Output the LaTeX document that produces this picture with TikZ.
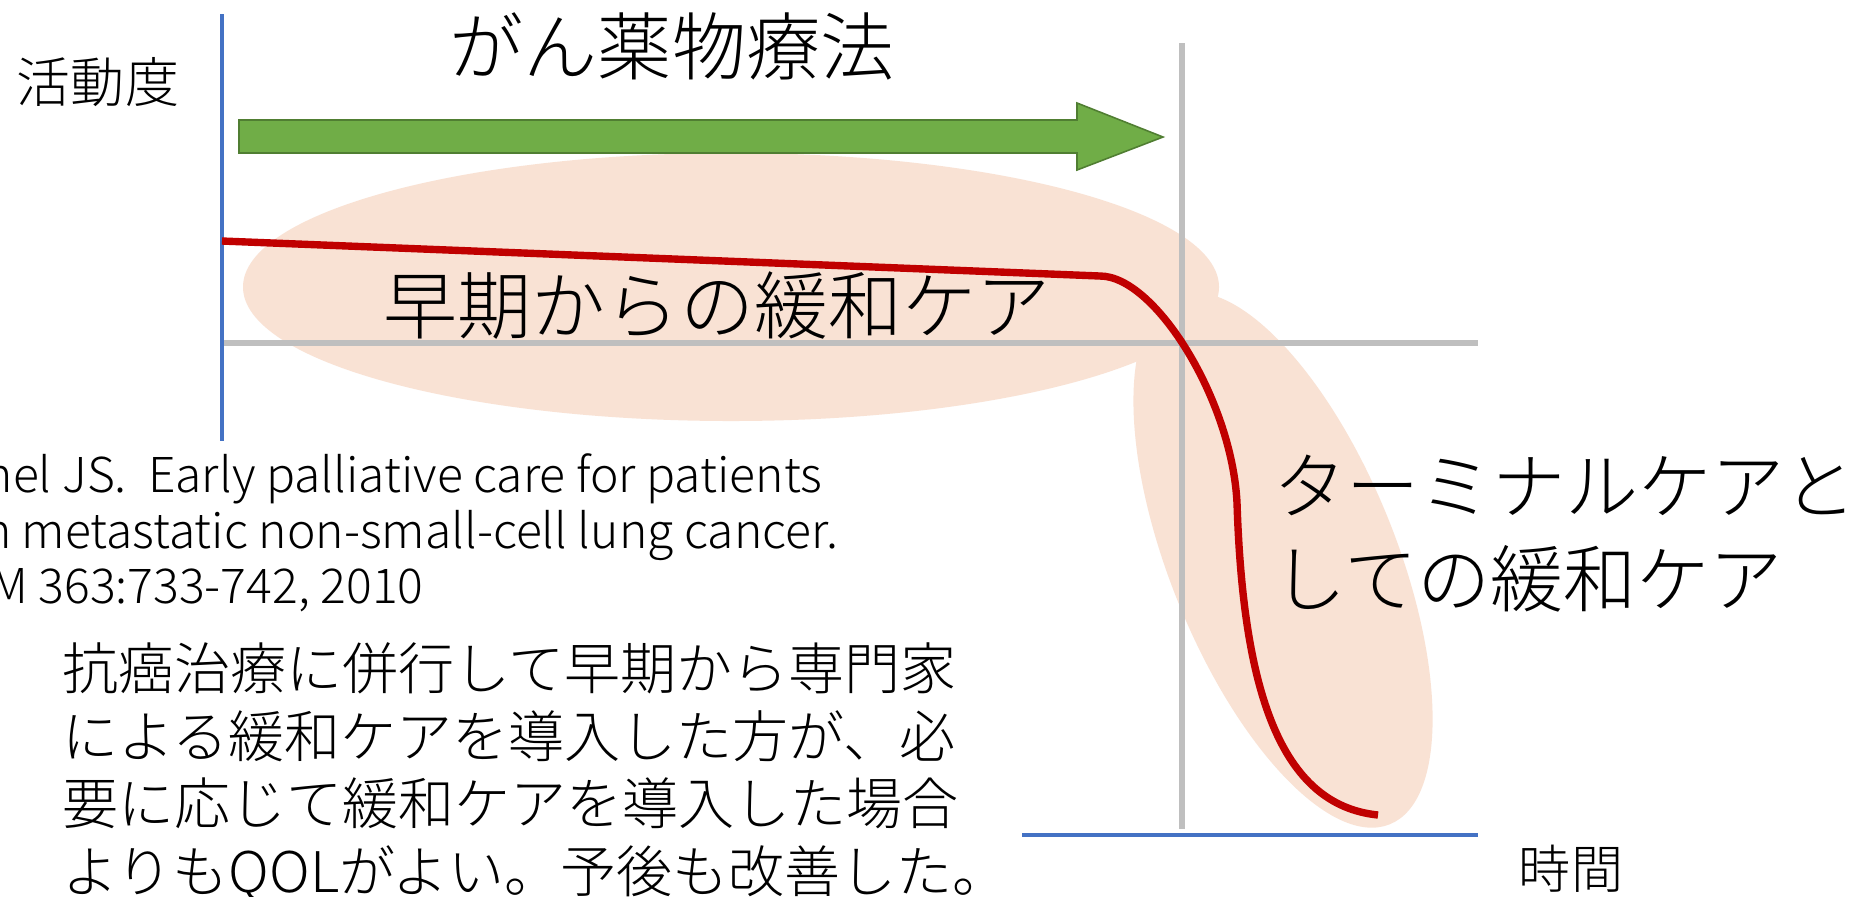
\documentclass[tikz,border=0pt]{standalone}
\usepackage{fontspec}
\setmainfont{Noto Sans CJK JP Light}
\definecolor{peach}{RGB}{249,226,212}
\definecolor{axblue}{RGB}{68,114,196}
\definecolor{axgray}{RGB}{191,191,191}
\definecolor{curvered}{RGB}{192,0,0}
\definecolor{arrgreen}{RGB}{112,173,71}
\definecolor{arrgreenline}{RGB}{80,126,50}
\begin{document}
\begin{tikzpicture}[x=0.01cm,y=-0.01cm,
  txt/.style={inner sep=0pt,outer sep=0pt,text=black},
  bigjp/.style={txt,font=\fontsize{21.05pt}{25pt}\selectfont},
  midjp/.style={txt,font=\fontsize{20.8pt}{25pt}\selectfont},
  parajp/.style={txt,font=\fontsize{15.93pt}{19pt}\selectfont},
  cite/.style={txt,font=\fontsize{13.66pt}{16pt}\selectfont},
  axislabel/.style={txt,font=\fontsize{15.36pt}{18pt}\selectfont},
  blueaxis/.style={draw=axblue,line width=1.2pt},
  grayaxis/.style={draw=axgray,line width=1.8pt},
  curve/.style={draw=curvered,line width=2.1pt,line join=round},
  blob/.style={fill=peach}]
\useasboundingbox (0,0) rectangle (1874,896);
\clip (0,0) rectangle (1874,896);
\fill[white] (0,0) rectangle (1874,896);
% peach ellipses
\fill[blob] (731,287) ellipse [x radius=488, y radius=134];
\fill[blob, rotate around={22:(1283,560)}] (1283,560) ellipse [x radius=113, y radius=285];
% axes
\draw[grayaxis] (1182,43) -- (1182,829);
\draw[grayaxis] (222,343) -- (1478,343);
\draw[blueaxis] (222,14) -- (222,441);
\draw[blueaxis] (1022,835) -- (1478,835);
% green arrow
\draw[fill=arrgreen,draw=arrgreenline,line width=0.45pt,line join=miter]
  (239,120) -- (1077,120) -- (1077,103) -- (1163,137) -- (1077,170) -- (1077,153) -- (239,153) -- cycle;
% red curve
\draw[curve] (222,241) -- (1100,276)
  .. controls (1155,276) and (1232,400) .. (1237,503)
  .. controls (1243,690) and (1280,805) .. (1378,815);
% labels
\node[axislabel] (katsudo) at (98,82) {活動度};
\node[txt,font=\fontsize{14.8pt}{18pt}\selectfont] (jikan) at (1571,869) {時間};
\node[bigjp] (yakubutsu) at (672,46) {がん薬物療法};
\node[bigjp] (souki) at (717,306) {早期からの緩和ケア};
\node[midjp,anchor=base west] (term1) at (1273,513) {ターミナルケアと};
\node[midjp,anchor=base west] (term2) at (1273,606) {しての緩和ケア};
% citation (cut off at the left edge, as in the original slide)
\node[cite,anchor=base west] (cite1) at (-81,492) {Temel JS.\ \ Early palliative care for patients};
\node[cite,anchor=base west] (cite2) at (-83,548) {with metastatic non-small-cell lung cancer.};
\node[cite,anchor=base west] (cite3) at (-96,603) {NEJM 363:733-742, 2010};
% paragraph
\node[parajp,anchor=base west] (para1) at (62,689) {抗癌治療に併行して早期から専門家};
\node[parajp,anchor=base west] (para2) at (62,757) {による緩和ケアを導入した方が、必};
\node[parajp,anchor=base west] (para3) at (62,824) {要に応じて緩和ケアを導入した場合};
\node[parajp,anchor=base west] (para4) at (62,892) {よりもQOLがよい。予後も改善した。};
\end{tikzpicture}
\end{document}
